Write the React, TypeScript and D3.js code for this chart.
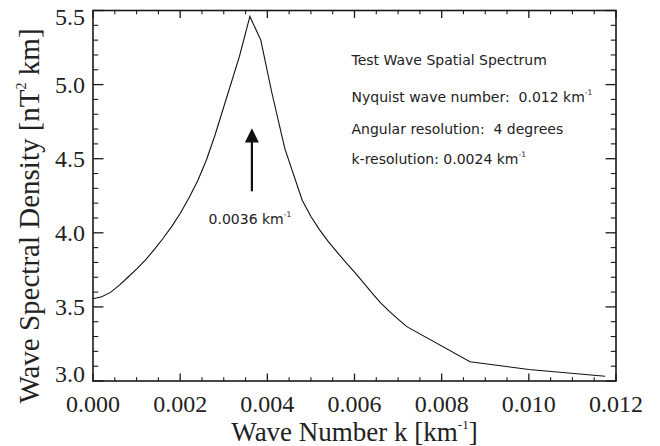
import React from 'react';
import * as d3 from 'd3';

// Data
const waveNumber = [
  0, 0.0002, 0.0004, 0.0006, 0.0008, 0.001, 0.0012, 0.0014, 0.0016, 0.0018, 0.002, 0.0022, 0.0024, 0.0026, 0.0028,
  0.00336, 0.0036, 0.00385, 0.0041, 0.0044, 0.0048, 0.005, 0.0052, 0.0054, 0.0056, 0.0058, 0.006, 0.0062, 0.0064,
  0.0066, 0.0068, 0.007, 0.0072, 0.00865, 0.01, 0.01175,
];
const spectralDensity = [
  3.555, 3.568, 3.598, 3.645, 3.7, 3.755, 3.815, 3.885, 3.96, 4.04, 4.13, 4.235, 4.35, 4.49, 4.66,
  5.19, 5.46, 5.3, 4.95, 4.57, 4.22, 4.11, 4.02, 3.94, 3.87, 3.8, 3.735, 3.665, 3.595,
  3.527, 3.47, 3.418, 3.367, 3.13, 3.078, 3.032,
];

const xMajorTicks = [0, 0.002, 0.004, 0.006, 0.008, 0.01, 0.012];
const yMajorTicks = [3.0, 3.5, 4.0, 4.5, 5.0, 5.5];
const xTickLabels = ['0.000', '0.002', '0.004', '0.006', '0.008', '0.010', '0.012'];
const yTickLabels = ['3.0', '3.5', '4.0', '4.5', '5.0', '5.5'];

const annotationLines = [
  { text: 'Test Wave Spatial Spectrum', sup: '' },
  { text: 'Nyquist wave number:  0.012 km', sup: '-1' },
  { text: 'Angular resolution:  4 degrees', sup: '' },
  { text: 'k-resolution: 0.0024 km', sup: '-1' },
];
const peakWaveNumber = 0.0036;
const peakLabel = '0.0036 km';

const W = 660;
const H = 446;
const margin = { top: 10.5, right: 44, bottom: 65, left: 93 };

export default function App() {
  const x = d3.scaleLinear().domain([0, 0.012]).range([margin.left, W - margin.right]);
  const y = d3.scaleLinear().domain([3.0, 5.5]).range([H - margin.bottom, margin.top]);
  const [x0, x1] = x.range();
  const [yb, yt] = y.range();
  const plotW = x1 - x0;
  const plotH = yb - yt;
  const xTickLen = 0.02 * plotH;
  const yTickLen = 0.02 * plotW;

  const xMinor = d3.range(0, 0.0120001, 0.0005).filter((v) => Math.abs(Math.round(v / 0.002) * 0.002 - v) > 1e-9);
  const yMinor = d3.range(3.0, 5.50001, 0.1).filter((v) => Math.abs(Math.round(v / 0.5) * 0.5 - v) > 1e-6);

  const line = d3
    .line<number>()
    .x((_, i) => x(waveNumber[i]))
    .y((d) => y(d));

  const serif = "'Liberation Serif', 'Times New Roman', serif";
  const sans = "'DejaVu Sans', sans-serif";
  const axisColor = '#1a1a1a';

  const annY = [64.5, 102, 134, 164];
  const arrowX = x(peakWaveNumber) + 2;

  return (
    <svg width={W} height={H} style={{ position: 'absolute', left: 0, top: 0, background: '#fff' }}>
      <rect x={0} y={0} width={W} height={H} fill="#fff" />
      {/* curve */}
      <path d={line(spectralDensity) || ''} fill="none" stroke="#111" strokeWidth={1.1} />

      {/* x ticks bottom & top */}
      {xMajorTicks.map((t, i) => (
        <g key={'xm' + i}>
          <line x1={x(t)} x2={x(t)} y1={yb} y2={yb - xTickLen} stroke={axisColor} strokeWidth={1.3} />
          <line x1={x(t)} x2={x(t)} y1={yt} y2={yt + xTickLen} stroke={axisColor} strokeWidth={1.3} />
          <text x={x(t)} y={412} textAnchor="middle" fontFamily={serif} fontSize={24} fill="#222">
            {xTickLabels[i]}
          </text>
        </g>
      ))}
      {xMinor.map((t, i) => (
        <g key={'xn' + i}>
          <line x1={x(t)} x2={x(t)} y1={yb} y2={yb - xTickLen / 2} stroke={axisColor} strokeWidth={1.1} />
          <line x1={x(t)} x2={x(t)} y1={yt} y2={yt + xTickLen / 2} stroke={axisColor} strokeWidth={1.1} />
        </g>
      ))}

      {/* y ticks left & right */}
      {yMajorTicks.map((t, i) => {
        const shift = i === 0 ? -7.5 : i === yMajorTicks.length - 1 ? 6 : 0;
        return (
          <g key={'ym' + i}>
            <line x1={x0} x2={x0 + yTickLen} y1={y(t)} y2={y(t)} stroke={axisColor} strokeWidth={1.3} />
            <line x1={x1} x2={x1 - yTickLen} y1={y(t)} y2={y(t)} stroke={axisColor} strokeWidth={1.3} />
            <text x={x0 - 8} y={y(t) + shift} dy="0.34em" textAnchor="end" fontFamily={serif} fontSize={24} fill="#222">
              {yTickLabels[i]}
            </text>
          </g>
        );
      })}
      {yMinor.map((t, i) => (
        <g key={'yn' + i}>
          <line x1={x0} x2={x0 + yTickLen / 2} y1={y(t)} y2={y(t)} stroke={axisColor} strokeWidth={1.1} />
          <line x1={x1} x2={x1 - yTickLen / 2} y1={y(t)} y2={y(t)} stroke={axisColor} strokeWidth={1.1} />
        </g>
      ))}

      {/* frame */}
      <rect x={x0} y={yt} width={plotW} height={plotH} fill="none" stroke={axisColor} strokeWidth={1.6} />

      {/* axis titles */}
      <text x={(x0 + x1) / 2} y={441} textAnchor="middle" fontFamily={serif} fontSize={27} fill="#222">
        Wave Number k [km
        <tspan fontSize={13} dy={-12}>-1</tspan>
        <tspan dy={12}>]</tspan>
      </text>
      <text transform={`translate(39, 216) rotate(-90)`} textAnchor="middle" fontFamily={serif} fontSize={29} fill="#222">
        Wave Spectral Density [nT
        <tspan fontSize={14} dy={-13}>2</tspan>
        <tspan dy={13}> km]</tspan>
      </text>

      {/* annotations */}
      {annotationLines.map((a, i) => (
        <text
          key={'a' + i}
          x={351.5}
          y={annY[i]}
          fontFamily={sans}
          fontSize={14}
          fill="#222"
          style={{ whiteSpace: 'pre' }}
        >
          {a.text}
          {a.sup ? (
            <tspan fontSize={7.5} dy={-7}>
              {a.sup}
            </tspan>
          ) : null}
        </text>
      ))}

      {/* arrow */}
      <line x1={arrowX} x2={arrowX} y1={y(4.28)} y2={y(4.63)} stroke="#111" strokeWidth={2.2} />
      <polygon
        points={`${arrowX},${y(4.705)} ${arrowX - 7},${y(4.61)} ${arrowX + 7},${y(4.61)}`}
        fill="#111"
      />
      <text x={arrowX - 2} y={y(4.06)} textAnchor="middle" fontFamily={sans} fontSize={14} fill="#222">
        {peakLabel}
        <tspan fontSize={7.5} dy={-7}>-1</tspan>
      </text>
    </svg>
  );
}
